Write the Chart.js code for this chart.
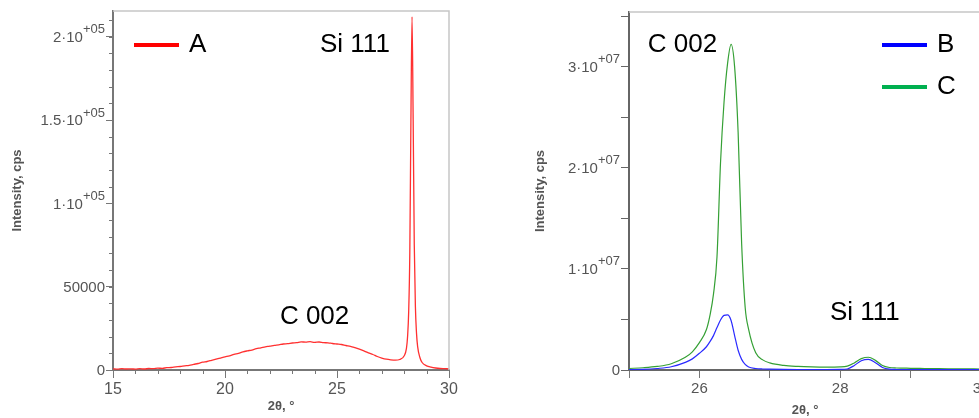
<!DOCTYPE html>
<html>
<head>
<meta charset="utf-8">
<script src="https://cdn.jsdelivr.net/npm/chart.js@4"></script>
<style>
html, body { margin: 0; padding: 0; background: #fff; overflow: hidden; width: 979px; height: 418px; }
#left { position: absolute; left: 0; top: 0; }
#right { position: absolute; left: 480px; top: 0; }
</style>
</head>
<body>
<canvas id="left" width="470" height="418"></canvas>
<canvas id="right" width="540" height="418"></canvas>
<script>
// sample A: 2theta (deg) and intensity (cps)
const angleA = [
    15.0, 15.2, 15.4, 15.6, 15.8, 16.0, 16.2, 16.4, 16.6, 16.8,
    17.0, 17.2, 17.4, 17.6, 17.8, 18.0, 18.2, 18.4, 18.6, 18.8,
    19.0, 19.2, 19.4, 19.6, 19.8, 20.0, 20.2, 20.4, 20.6, 20.8,
    21.0, 21.2, 21.4, 21.6, 21.8, 22.0, 22.2, 22.4, 22.6, 22.8,
    23.0, 23.2, 23.4, 23.6, 23.8, 24.0, 24.2, 24.4, 24.6, 24.8,
    25.0, 25.2, 25.4, 25.6, 25.8, 26.0, 26.2, 26.4, 26.6, 26.8,
    27.0, 27.2, 27.4, 27.6, 27.8, 28.0, 28.1, 28.15, 28.2, 28.25,
    28.3, 28.35, 28.4, 28.45, 28.5, 28.55, 28.6, 28.7, 28.8, 29.0,
    29.2, 29.4, 29.6, 29.8, 30.0
];
const countsA = [
    700, 500, 800, 600, 700, 500, 800, 600, 900, 800,
    1100, 1000, 1400, 1500, 1900, 2100, 2500, 2800, 3400, 3900,
    4700, 5100, 5800, 6500, 7200, 7900, 8500, 9400, 10000, 10900,
    11500, 12000, 12800, 13300, 13900, 14300, 14800, 15100, 15600, 15800,
    16200, 16400, 16900, 16700, 17000, 16600, 16800, 16400, 16300, 15900,
    15600, 15300, 14700, 14200, 13400, 12500, 11500, 10300, 9300, 8100,
    7200, 6500, 6100, 5900, 6300, 8500, 13000, 20000, 35000, 70000,
    150000, 212000, 150000, 75000, 38000, 22000, 14000, 7500, 4500, 2500,
    1700, 1200, 900, 800, 700
];

// samples B and C share the same 2theta grid
const angleBC = [
    25.0, 25.2, 25.4, 25.6, 25.8, 25.9, 26.0, 26.1, 26.15, 26.2,
    26.25, 26.3, 26.35, 26.4, 26.45, 26.5, 26.55, 26.6, 26.65, 26.7,
    26.8, 26.9, 27.0, 27.2, 27.4, 27.6, 27.8, 28.0, 28.1, 28.2,
    28.3, 28.4, 28.5, 28.6, 28.7, 28.8, 29.0, 29.2, 29.4, 29.6,
    29.8, 30.0
];
const countsB = [
    0.03e6, 0.06e6, 0.15e6, 0.32e6, 0.75e6, 1.1e6, 1.65e6, 2.3e6, 2.8e6, 3.4e6,
    4.2e6, 4.95e6, 5.4e6, 5.45e6, 4.9e6, 3.4e6, 1.95e6, 1.05e6, 0.55e6, 0.3e6,
    0.15e6, 0.1e6, 0.08e6, 0.06e6, 0.05e6, 0.05e6, 0.05e6, 0.06e6, 0.1e6, 0.45e6,
    0.92e6, 1.06e6, 0.72e6, 0.25e6, 0.08e6, 0.05e6, 0.04e6, 0.03e6, 0.03e6, 0.03e6,
    0.03e6, 0.03e6
];
const countsC = [
    0.15e6, 0.22e6, 0.35e6, 0.62e6, 1.25e6, 1.8e6, 2.7e6, 4.0e6, 5.4e6, 7.5e6,
    11.2e6, 20.5e6, 26.5e6, 30.3e6, 32.2e6, 30.0e6, 23.5e6, 12.5e6, 6.2e6, 4.0e6,
    1.7e6, 1.0e6, 0.7e6, 0.45e6, 0.35e6, 0.3e6, 0.28e6, 0.3e6, 0.38e6, 0.7e6,
    1.12e6, 1.26e6, 0.95e6, 0.45e6, 0.25e6, 0.2e6, 0.17e6, 0.15e6, 0.13e6, 0.12e6,
    0.11e6, 0.1e6
];

// tick labels ("^" marks the start of the superscript exponent)
const yTicksA = [0, 50000, 100000, 150000, 200000];
const yLabelsA = ['0', '50000', '1·10^+05', '1.5·10^+05', '2·10^+05'];
const yTicksBC = [0, 5e6, 1e7, 1.5e7, 2e7, 2.5e7, 3e7, 3.5e7];
const yLabelsBC = ['0', '', '1·10^+07', '', '2·10^+07', '', '3·10^+07', ''];
const xLabelsBC = [26, 28, 30];

const FONT = '"Liberation Sans", Arial, sans-serif';
Chart.defaults.font.family = FONT;

function points(xs, ys) {
    return xs.map((x, i) => ({ x: x, y: ys[i] }));
}

// frame, minor ticks, y labels with exponents, legend and peak names
const deco = {
    id: 'deco',
    afterDraw(chart, args, o) {
        const { ctx, chartArea: a, scales: { x, y } } = chart;
        ctx.save();
        ctx.strokeStyle = '#c6c6c6';
        ctx.lineWidth = 1.5;
        ctx.beginPath();
        ctx.moveTo(a.left, a.top);
        ctx.lineTo(a.right, a.top);
        ctx.lineTo(a.right, a.bottom);
        ctx.stroke();

        if (o.minorX) {
            ctx.strokeStyle = '#777';
            ctx.lineWidth = 1;
            ctx.beginPath();
            for (let v = x.min; v <= x.max + 1e-9; v += o.minorX) {
                const px = Math.round(x.getPixelForValue(v)) + 0.5;
                ctx.moveTo(px, a.bottom);
                ctx.lineTo(px, a.bottom + 4);
            }
            for (let v = y.min; v <= y.max; v += o.minorY) {
                const py = Math.round(y.getPixelForValue(v)) + 0.5;
                ctx.moveTo(a.left, py);
                ctx.lineTo(a.left - 4, py);
            }
            ctx.stroke();
        }

        // y tick labels: mantissa plus raised exponent
        ctx.fillStyle = '#555';
        ctx.textBaseline = 'middle';
        y.ticks.forEach((t, i) => {
            const parts = o.yLabels[i].split('^');
            if (!parts[0]) return;
            const py = y.getPixelForValue(t.value);
            let xe = a.left - o.labelGap;
            if (parts[1]) {
                ctx.font = '13px ' + FONT;
                const w = ctx.measureText(parts[1]).width;
                ctx.textAlign = 'left';
                ctx.fillText(parts[1], xe - w, py - 7);
                xe -= w;
            }
            ctx.font = '15px ' + FONT;
            ctx.textAlign = 'right';
            ctx.fillText(parts[0], xe, py + 1);
        });

        ctx.font = '26px ' + FONT;
        ctx.fillStyle = '#000';
        chart.data.datasets.forEach((ds, i) => {
            const ly = o.legendY + i * 42;
            ctx.strokeStyle = ds.legendColor;
            ctx.lineWidth = 4;
            ctx.beginPath();
            ctx.moveTo(o.legendX, ly);
            ctx.lineTo(o.legendX + 45, ly);
            ctx.stroke();
            ctx.textAlign = 'left';
            ctx.fillText(ds.label, o.legendX + 55, ly);
        });

        ctx.textAlign = 'center';
        o.notes.forEach(n => {
            ctx.fillText(n.text, x.getPixelForValue(n.x), y.getPixelForValue(n.y));
        });
        ctx.restore();
    }
};

function axisTitle(text, pad) {
    return { display: true, text: text, color: '#555', font: { size: 13, weight: 'bold' }, padding: pad };
}

new Chart(document.getElementById('left'), {
    type: 'line',
    data: {
        datasets: [{
            label: 'A',
            data: points(angleA, countsA),
            borderColor: '#ff3030',
            legendColor: '#ff0000',
            borderWidth: 1.3,
            pointRadius: 0,
            cubicInterpolationMode: 'monotone'
        }]
    },
    options: {
        responsive: false,
        animation: false,
        layout: { padding: { left: 0, right: 21, top: 11, bottom: 0 } },
        plugins: {
            legend: { display: false },
            tooltip: { enabled: false },
            deco: {
                minorX: 1, minorY: 10000,
                yLabels: yLabelsA, labelGap: 8,
                legendX: 134, legendY: 45,
                notes: [
                    { text: 'Si 111', x: 25.8, y: 195000 },
                    { text: 'C 002', x: 24.0, y: 31800 }
                ]
            }
        },
        scales: {
            x: {
                type: 'linear', min: 15, max: 30,
                ticks: { stepSize: 5, color: '#555', font: { size: 16 }, padding: 2, maxRotation: 0 },
                grid: { drawOnChartArea: false, tickLength: 8, tickColor: '#777' },
                border: { color: '#777', width: 2 },
                title: axisTitle('2θ, °', { top: 0, bottom: 4 }),
                afterFit(s) { s.height = 48; }
            },
            y: {
                min: 0, max: 215500,
                ticks: { display: false },
                afterBuildTicks(s) { s.ticks = yTicksA.map(v => ({ value: v })); },
                grid: { drawOnChartArea: false, tickLength: 7, tickColor: '#777' },
                border: { color: '#777', width: 2 },
                title: axisTitle('Intensity, cps', { top: 10, bottom: 0 }),
                afterFit(s) { s.width = 113; }
            }
        }
    },
    plugins: [deco]
});

new Chart(document.getElementById('right'), {
    type: 'line',
    data: {
        datasets: [{
            label: 'B',
            data: points(angleBC, countsB),
            borderColor: '#2a2aff',
            legendColor: '#0000ff',
            borderWidth: 1.2,
            pointRadius: 0,
            cubicInterpolationMode: 'monotone'
        }, {
            label: 'C',
            data: points(angleBC, countsC),
            borderColor: '#35a035',
            legendColor: '#00b050',
            borderWidth: 1.2,
            pointRadius: 0,
            cubicInterpolationMode: 'monotone'
        }]
    },
    options: {
        responsive: false,
        animation: false,
        layout: { padding: { left: 0, right: 39, top: 12, bottom: 0 } },
        plugins: {
            legend: { display: false },
            tooltip: { enabled: false },
            deco: {
                yLabels: yLabelsBC, labelGap: 9,
                legendX: 402, legendY: 45,
                notes: [
                    { text: 'C 002', x: 25.76, y: 3.22e7 },
                    { text: 'Si 111', x: 28.35, y: 5.64e6 }
                ]
            }
        },
        scales: {
            x: {
                type: 'linear', min: 25, max: 30,
                ticks: {
                    stepSize: 1, color: '#555', font: { size: 15 }, padding: 2, maxRotation: 0, autoSkip: false,
                    callback: v => xLabelsBC.includes(v) ? String(v) : ''
                },
                grid: { drawOnChartArea: false, tickLength: 8, tickColor: '#777' },
                border: { color: '#666', width: 2 },
                title: axisTitle('2θ, °', { top: 0, bottom: 0 }),
                afterFit(s) { s.height = 48; }
            },
            y: {
                min: 0, max: 3.54e7,
                ticks: { display: false },
                afterBuildTicks(s) { s.ticks = yTicksBC.map(v => ({ value: v })); },
                grid: { drawOnChartArea: false, tickLength: 8, tickColor: '#666' },
                border: { color: '#666', width: 2 },
                title: axisTitle('Intensity, cps', { top: 53, bottom: 0 }),
                afterFit(s) { s.width = 149; }
            }
        }
    },
    plugins: [deco]
});
</script>
</body>
</html>
